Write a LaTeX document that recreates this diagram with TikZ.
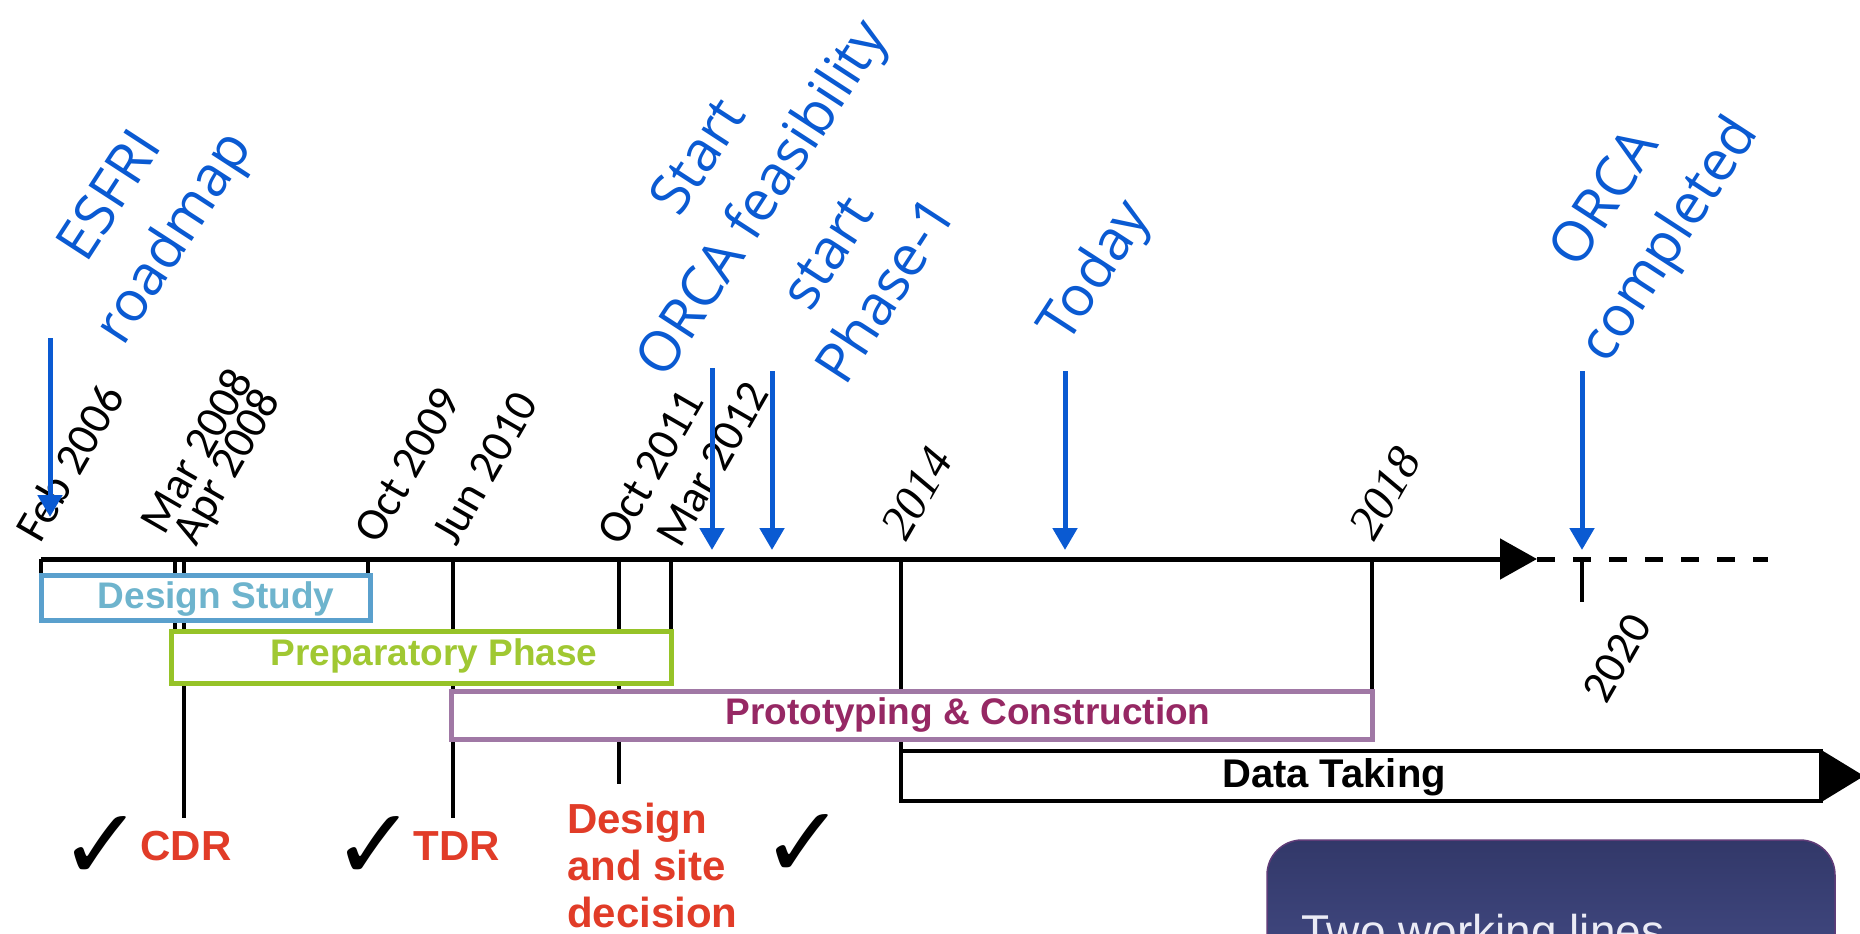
\documentclass[tikz,border=0pt]{standalone}
\usepackage{fontspec}
\setmainfont{Liberation Sans}
\newfontfamily\bluefont{Open Sans}
\newfontfamily\datefont{Carlito}
\newfontfamily\yearfont{Liberation Serif}
\newfontfamily\symfont{DejaVu Sans}
\usetikzlibrary{arrows.meta}
\definecolor{labblue}{RGB}{10,90,210}
\definecolor{dsborder}{RGB}{90,160,205}
\definecolor{dstext}{RGB}{110,180,205}
\definecolor{ppborder}{RGB}{150,195,40}
\definecolor{pptext}{RGB}{160,200,50}
\definecolor{pcborder}{RGB}{160,120,165}
\definecolor{pctext}{RGB}{150,40,100}
\definecolor{redlab}{RGB}{225,60,40}
\definecolor{navytop}{RGB}{50,56,105}
\definecolor{navybot}{RGB}{72,80,140}
\definecolor{navyedge}{RGB}{95,60,120}
\definecolor{twltext}{RGB}{235,235,245}
\tikzset{
  tickline/.style={line width=3.5pt, draw=black},
  phasebox/.style={line width=5pt, fill=white, inner sep=0pt},
  phasetext/.style={inner sep=0pt, font=\bfseries\fontsize{37}{40}\selectfont},
  bluearrow/.style={draw=labblue, line width=5pt, -{Triangle[width=24pt,length=22pt]}},
  datelab/.style={rotate=60, anchor=base west, inner sep=0pt, font=\datefont\fontsize{46}{50}\selectfont},
  yearlab/.style={rotate=60, anchor=base west, inner sep=0pt, font=\yearfont\itshape\fontsize{48}{50}\selectfont},
  bluelab/.style={rotate=57, align=center, inner sep=0pt, text=labblue, font=\bluefont\fontsize{56}{76}\selectfont},
  redtext/.style={text=redlab, inner sep=0pt, font=\bfseries\fontsize{42}{47}\selectfont},
  checkmark/.style={inner sep=0pt, font=\symfont\fontsize{100}{100}\selectfont},
}
\begin{document}
\begin{tikzpicture}[x=1pt,y=-1pt]
\useasboundingbox (0,0) rectangle (1860,934);
\clip (0,0) rectangle (1860,934);
\fill[white] (0,0) rectangle (1860,934);

% timeline coordinates
\coordinate (tl0) at (41,559);
\coordinate (tlend) at (1537,559);
\coordinate (dashend) at (1768,559);

% tick lines (drawn before boxes so boxes hide them)
\coordinate (m08) at (175,559);  \coordinate (m08b) at (175,631);
\coordinate (a08) at (184,559);  \coordinate (a08b) at (184,818);
\coordinate (o09) at (368,559);  \coordinate (o09b) at (368,575);
\coordinate (j10) at (453,559);  \coordinate (j10b) at (453,818);
\coordinate (o11) at (619,559);  \coordinate (o11b) at (619,784);
\coordinate (m12) at (671,559);  \coordinate (m12b) at (671,631);
\coordinate (y14) at (901,559);  \coordinate (y14b) at (901,751);
\coordinate (y18) at (1372,559); \coordinate (y18b) at (1372,691);
\coordinate (y20) at (1582,559); \coordinate (y20b) at (1582,602);
\coordinate (f06b) at (41,575);
\draw[tickline] (tl0) -- (f06b);
\draw[tickline] (m08) -- (m08b);
\draw[tickline] (a08) -- (a08b);
\draw[tickline] (o09) -- (o09b);
\draw[tickline] (j10) -- (j10b);
\draw[tickline] (o11) -- (o11b);
\draw[tickline] (m12) -- (m12b);
\draw[tickline] (y14) -- (y14b);
\draw[tickline] (y18) -- (y18b);
\draw[tickline] (y20) -- (y20b);

% main timeline
\draw[line width=5pt, -{Triangle[width=40pt,length=37pt]}] (tl0) -- (tlend);
\draw[line width=5pt, dash pattern=on 18pt off 18pt] (tlend) -- (dashend);

% phase boxes
\node[phasebox, draw=dsborder, minimum width=329pt, minimum height=45pt] (ds) at (205.5,597.5) {};
\node[phasetext, text=dstext] (dst) at (216,599) {Design Study};
\node[phasebox, draw=ppborder, minimum width=500pt, minimum height=52pt] (pp) at (421,657) {};
\node[phasetext, text=pptext] (ppt) at (434,656) {Preparatory Phase};
\node[phasebox, draw=pcborder, minimum width=921pt, minimum height=48pt] (pc) at (911.5,715) {};
\node[phasetext, text=pctext] (pct) at (968,715) {Prototyping \& Construction};
\node[phasebox, draw=black, line width=4pt, minimum width=920pt, minimum height=50pt] (dt) at (1361,776) {};
\fill[black] ([yshift=-2pt]dt.north east) -- (1864,776) -- ([yshift=2pt]dt.south east) -- cycle;
\node[phasetext, text=black, font=\bfseries\fontsize{40}{44}\selectfont] (dtt) at (1334,777) {Data Taking};

% date labels
\node[datelab] (lf06) at (40,545) {Feb 2006};
\node[datelab] (lm08) at (164,537) {Mar 2008};
\node[datelab] (la08) at (196,548) {Apr 2008};
\node[datelab] (lo09) at (378,546) {Oct 2009};
\node[datelab] (lj10) at (456,548) {Jun 2010};
\node[datelab] (lo11) at (621,548) {Oct 2011};
\node[datelab] (lm12) at (680,550) {Mar 2012};
\node[yearlab] (l14) at (906,543) {2014};
\node[yearlab] (l18) at (1374,543) {2018};
\node[datelab] (l20) at (1606,706) {2020};

% blue event arrows
\coordinate (e1a) at (50,338);   \coordinate (e1b) at (50,517);
\coordinate (e2a) at (712,368);  \coordinate (e2b) at (712,550);
\coordinate (e3a) at (772,371);  \coordinate (e3b) at (772,550);
\coordinate (e4a) at (1065,371); \coordinate (e4b) at (1065,550);
\coordinate (e5a) at (1582,371); \coordinate (e5b) at (1582,550);
\draw[bluearrow] (e1a) -- (e1b);
\draw[bluearrow] (e2a) -- (e2b);
\draw[bluearrow] (e3a) -- (e3b);
\draw[bluearrow] (e4a) -- (e4b);
\draw[bluearrow] (e5a) -- (e5b);

% blue labels
\node[bluelab] (b1) at (145,219) {ESFRI\\roadmap};
\node[bluelab] (b2) at (734,180) {Start\\ORCA feasibility};
\node[bluelab, font=\bluefont\fontsize{56}{70}\selectfont] (b3) at (857,272) {start\\Phase-1};
\node[bluelab] (b4) at (1097,273) {Today};
\node[bluelab] (b5) at (1640,221) {ORCA\\completed};

% milestones
\node[checkmark] (c1) at (101,848) {✓};
\node[redtext] (cdr) at (186,846) {CDR};
\node[checkmark] (c2) at (374,848) {✓};
\node[redtext] (tdr) at (457,846) {TDR};
\node[redtext, align=left, anchor=north west] (dsd) at (567,803) {Design\\and site\\decision};
\node[checkmark] (c3) at (803,846) {✓};

% bottom-right box
\shade[top color=navytop, bottom color=navybot, rounded corners=35pt] (1267,840) rectangle (1835,1020);
\draw[draw=navyedge, line width=1.5pt, rounded corners=35pt] (1267,840) rectangle (1835,1020);
\node[anchor=base west, inner sep=0pt, text=twltext, font=\fontsize{46}{50}\selectfont] (twl) at (1301,947) {Two working lines};
\end{tikzpicture}
\end{document}
